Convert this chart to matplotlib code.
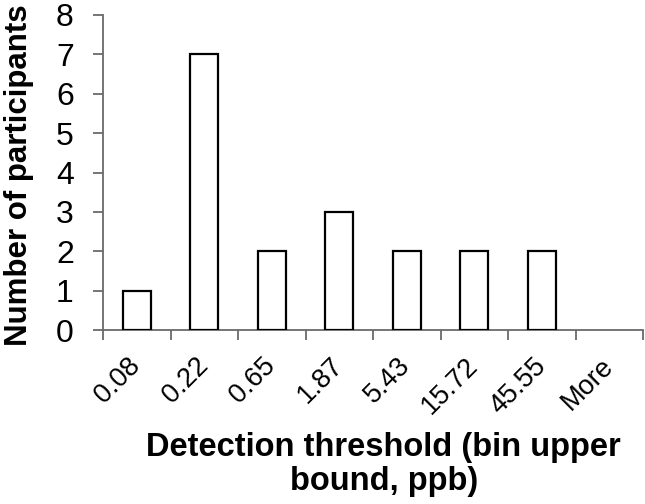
import matplotlib
matplotlib.use("Agg")
import matplotlib.pyplot as plt
import numpy as np

categories = ["0.08", "0.22", "0.65", "1.87", "5.43", "15.72", "45.55", "More"]
counts = [1, 7, 2, 3, 2, 2, 2, 0]
yticks = [0, 1, 2, 3, 4, 5, 6, 7, 8]

plt.rcParams['font.family'] = ['Liberation Sans', 'DejaVu Sans']

fig = plt.figure(figsize=(6.45, 5.04), dpi=100)
ax = fig.add_axes([103 / 645, 1 - 330 / 504, 540 / 645, 315 / 504])

x = np.arange(len(categories))
bars = ax.bar(x, counts, width=0.41, facecolor='white', edgecolor='black', linewidth=1.6, zorder=3)
for b, v in zip(bars, counts):
    if v == 0:
        b.set_visible(False)

axis_col = '#6a6a6a'
ax.set_xlim(-0.5, len(categories) - 0.5)
ax.set_ylim(0, 8)
ax.set_yticks(yticks)
ax.set_yticklabels([str(v) for v in yticks], fontsize=23)

ax.set_xticks(x)
ax.set_xticklabels(categories, rotation=45, ha='right', va='center',
                   rotation_mode='anchor', fontsize=19.5)
ax.tick_params(axis='x', which='major', length=0, pad=23)
ax.set_xticks(np.arange(len(categories) + 1) - 0.5, minor=True)
ax.tick_params(axis='x', which='minor', length=7, width=1.3, color=axis_col, direction='out')
ax.tick_params(axis='y', length=7, width=1.3, color=axis_col, direction='out', pad=14)

for s in ['top', 'right']:
    ax.spines[s].set_visible(False)
for s in ['left', 'bottom']:
    ax.spines[s].set_color(axis_col)
    ax.spines[s].set_linewidth(1.3)

ax.set_ylabel("Number of participants", fontsize=22.5, fontweight='bold')
ax.yaxis.set_label_coords(-0.127, 0.49)
ax.set_xlabel("Detection threshold (bin upper\nbound, ppb)", fontsize=23.5, fontweight='bold',
              linespacing=1.1)
ax.xaxis.set_label_coords(0.52, -0.325)

fig.savefig("out.png", dpi=100)
